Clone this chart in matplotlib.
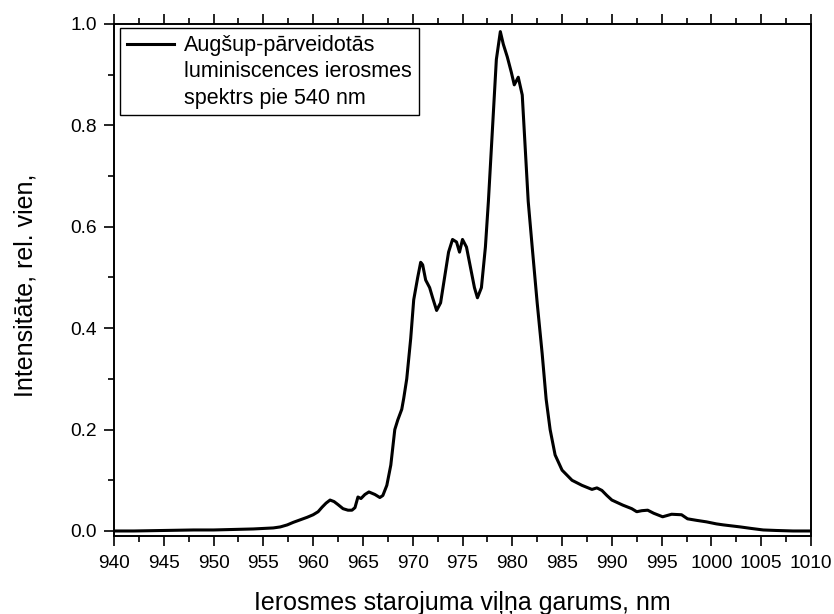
import matplotlib
matplotlib.use("Agg")
import numpy as np
import matplotlib.pyplot as plt
from matplotlib.ticker import MultipleLocator
from matplotlib.legend_handler import HandlerLine2D

plt.rcParams['font.family'] = ['Liberation Sans', 'DejaVu Sans']

wavelength = [940, 942, 945, 948, 950, 952, 954, 955, 956, 956.7, 957.4, 958, 958.7, 959.4,
              960, 960.5, 960.9, 961.3, 961.7, 962.1, 962.5, 963, 963.5, 963.9, 964.2, 964.5,
              964.8, 965.2, 965.6, 966.2, 966.7, 967.0, 967.4, 967.8, 968.2, 968.5, 968.9,
              969.1, 969.4, 969.8, 970.1, 970.5, 970.8, 971.0, 971.3, 971.7, 972.0, 972.4,
              972.8, 973.2, 973.6, 974.0, 974.4, 974.7, 975.0, 975.4, 975.8, 976.2, 976.5,
              976.9, 977.3, 977.6, 978.0, 978.4, 978.8, 979.1, 979.5, 979.9, 980.2, 980.6,
              981.0, 981.6, 982.0, 982.5, 983.0, 983.4, 983.8, 984.3, 985.0, 985.5, 986.0,
              987.0, 988.0, 988.5, 989.0, 989.5, 990.0, 991.1, 992.0, 992.5, 993.0, 993.6,
              994.2, 995.1, 996.0, 997.0, 997.6, 998.5, 999.5, 1000.5, 1001.2, 1002.9,
              1004.0, 1005.2, 1006.5, 1008.2, 1010]
intensity = [0.0, 0.0, 0.001, 0.002, 0.002, 0.003, 0.004, 0.005, 0.006, 0.008, 0.012, 0.017,
             0.022, 0.027, 0.032, 0.038, 0.047, 0.055, 0.061, 0.058, 0.052, 0.044, 0.041,
             0.041, 0.046, 0.067, 0.064, 0.072, 0.077, 0.072, 0.066, 0.070, 0.090, 0.130,
             0.200, 0.219, 0.240, 0.262, 0.300, 0.380, 0.456, 0.500, 0.530, 0.525, 0.495,
             0.480, 0.460, 0.435, 0.450, 0.500, 0.550, 0.575, 0.570, 0.550, 0.575, 0.560,
             0.520, 0.480, 0.460, 0.480, 0.560, 0.650, 0.790, 0.930, 0.985, 0.960, 0.935,
             0.905, 0.880, 0.895, 0.860, 0.650, 0.560, 0.450, 0.350, 0.260, 0.200, 0.150,
             0.120, 0.110, 0.100, 0.090, 0.082, 0.085, 0.080, 0.070, 0.061, 0.051, 0.044,
             0.038, 0.040, 0.041, 0.035, 0.028, 0.033, 0.032, 0.024, 0.021, 0.018, 0.014,
             0.012, 0.008, 0.005, 0.002, 0.001, 0.0, 0.0]

x_ticks = list(range(940, 1011, 5))
y_ticks = [0.0, 0.2, 0.4, 0.6, 0.8, 1.0]

legend_label = "Augšup-pārveidotās\nluminiscences ierosmes\nspektrs pie 540 nm"


class TopLineHandler(HandlerLine2D):
    """Places the legend line level with the first text line."""
    def __init__(self, shift, **kw):
        super().__init__(**kw)
        self.shift = shift

    def create_artists(self, legend, orig_handle, xdescent, ydescent, width,
                       height, fontsize, trans):
        arts = super().create_artists(legend, orig_handle, xdescent, ydescent,
                                      width, height, fontsize, trans)
        for a in arts:
            a.set_ydata(np.asarray(a.get_ydata(), dtype=float) + self.shift)
        return arts


fig = plt.figure(figsize=(8.34, 6.14), dpi=100)
ax = fig.add_axes([114/834, 1-536/614, (811-114)/834, (536-24)/614])

line, = ax.plot(wavelength, intensity, color='black', lw=2.2, label=legend_label)

ax.set_xlim(940, 1010)
ax.set_ylim(-0.0099, 1.0)
ax.set_xticks(x_ticks)
ax.set_yticks(y_ticks)
ax.set_yticklabels([f"{v:.1f}" for v in y_ticks])
ax.xaxis.set_minor_locator(MultipleLocator(2.5))
ax.yaxis.set_minor_locator(MultipleLocator(0.1))

ax.tick_params(axis='x', which='both', direction='out', top=True, bottom=True,
               labelsize=13.8)
ax.tick_params(axis='y', which='both', direction='out', left=True, right=False,
               labelsize=13.8)
ax.tick_params(axis='x', which='major', pad=6)
ax.tick_params(axis='y', which='major', pad=5)
ax.tick_params(which='major', length=7.5, width=1.2)
ax.tick_params(which='minor', length=4, width=1.2)
for s in ax.spines.values():
    s.set_linewidth(1.4)

ax.set_xlabel("Ierosmes starojuma viļņa garums, nm", fontsize=18)
ax.set_ylabel("Intensitāte, rel. vien,", fontsize=18)
ax.xaxis.set_label_coords(0.5, -0.107)
ax.yaxis.set_label_coords(-0.110, 0.49)

line_spacing_pt = 28 * 72 / 100.0
leg = ax.legend(loc='upper left', bbox_to_anchor=(0.0086, 0.992), fontsize=15.5,
                frameon=True, fancybox=False, edgecolor='black', framealpha=1,
                handlelength=2.2, handletextpad=0.45, borderpad=0.32, borderaxespad=0,
                handler_map={line: TopLineHandler(line_spacing_pt)})
leg.get_frame().set_linewidth(1.0)
for t in leg.get_texts():
    t.set_linespacing(1.33)

fig.savefig("out.png", dpi=100)
